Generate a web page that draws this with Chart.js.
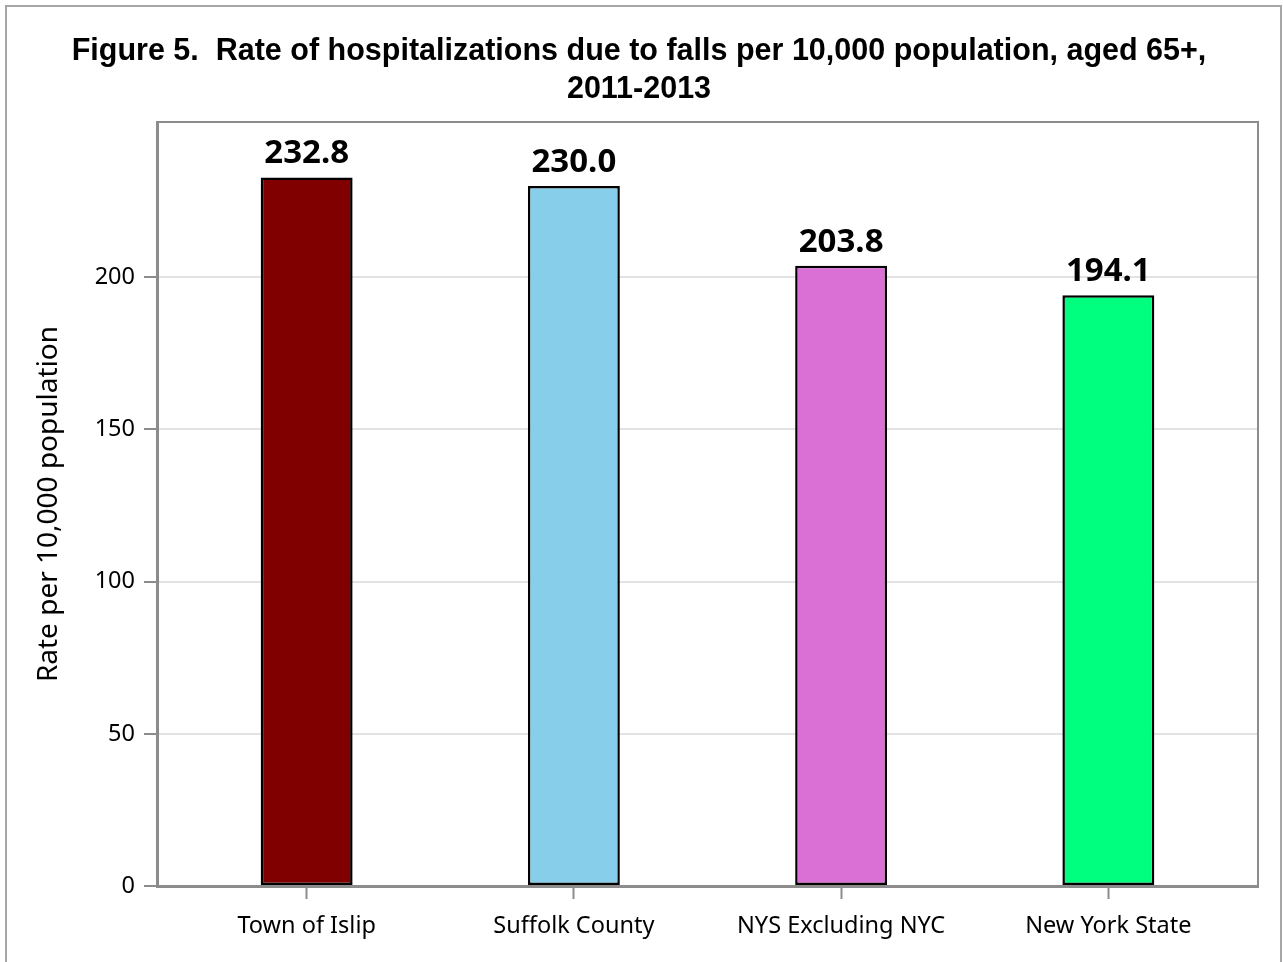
<!DOCTYPE html>
<html lang="en">
<head>
    <meta charset="UTF-8">
    <title>Figure 5 - Hospitalizations due to falls</title>
    <style>
        html, body {
            margin: 0;
            padding: 0;
            background-color: #ffffff;
        }
        .chart-container {
            width: 1283px;
            height: 962px;
        }
    </style>
    <script src="https://cdn.jsdelivr.net/npm/chart.js"></script>
</head>
<body>
    <div class="chart-container">
        <canvas id="fallsChart"></canvas>
    </div>

    <script>
        const areas = ['Town of Islip', 'Suffolk County', 'NYS Excluding NYC', 'New York State'];
        const rates = [232.8, 230.0, 203.8, 194.1];
        const barColors = ['#800000', '#87ceeb', '#da70d6', '#00ff7f'];
        const yTicks = [0, 50, 100, 150, 200];
        const titleLines = ['Figure 5.  Rate of hospitalizations due to falls per 10,000 population, aged 65+,', '2011-2013'];
        const yTitle = 'Rate per 10,000 population';

        const frameGray = '#8c8c8c';

        // outer border + top/right edges of the plot frame
        const framePlugin = {
            id: 'frame',
            beforeDraw(chart) {
                const ctx = chart.ctx;
                ctx.save();
                ctx.strokeStyle = '#a6a6a6';
                ctx.lineWidth = 2;
                ctx.strokeRect(6, 6, chart.width - 8, chart.height - 4);
                ctx.restore();
            },
            afterDraw(chart) {
                const a = chart.chartArea;
                const ctx = chart.ctx;
                ctx.save();
                ctx.strokeStyle = frameGray;
                ctx.lineWidth = 2;
                ctx.beginPath();
                ctx.moveTo(a.left, a.top);
                ctx.lineTo(a.right, a.top);
                ctx.lineTo(a.right, a.bottom);
                ctx.stroke();
                ctx.restore();
            }
        };

        // value labels above each bar
        const valueLabels = {
            id: 'valueLabels',
            afterDatasetsDraw(chart) {
                const ctx = chart.ctx;
                const meta = chart.getDatasetMeta(0);
                ctx.save();
                ctx.font = 'bold 33px "Noto Sans"';
                ctx.fillStyle = '#000';
                ctx.textAlign = 'center';
                ctx.textBaseline = 'alphabetic';
                meta.data.forEach((bar, i) => {
                    ctx.fillText(rates[i].toFixed(1), bar.x, bar.y - 14);
                });
                ctx.restore();
            }
        };

        new Chart(document.getElementById('fallsChart').getContext('2d'), {
            type: 'bar',
            data: {
                datasets: [{
                    data: rates.map((v, i) => ({ x: i, y: v })),
                    backgroundColor: barColors,
                    borderColor: '#000',
                    borderWidth: 2.5,
                    borderSkipped: false,
                    categoryPercentage: 1,
                    barPercentage: 0.344
                }]
            },
            options: {
                responsive: true,
                maintainAspectRatio: false,
                animation: false,
                devicePixelRatio: 1,
                layout: { padding: { left: 20, right: 25, top: 0, bottom: 0 } },
                plugins: {
                    legend: { display: false },
                    tooltip: { enabled: false },
                    title: {
                        display: true,
                        text: titleLines,
                        color: '#000',
                        font: { family: '"Liberation Sans", Arial, sans-serif', size: 30.5, weight: 'bold', lineHeight: 1.23 },
                        padding: { top: 33, bottom: 14 }
                    }
                },
                scales: {
                    x: {
                        type: 'linear',
                        min: -0.56,
                        max: 3.56,
                        offset: false,
                        grid: {
                            offset: false,
                            drawOnChartArea: false,
                            tickColor: frameGray,
                            tickLength: 13,
                            tickWidth: 2
                        },
                        border: { color: frameGray, width: 3 },
                        afterBuildTicks(scale) {
                            scale.ticks = areas.map((a, i) => ({ value: i }));
                        },
                        ticks: {
                            color: '#000',
                            padding: 13,
                            font: { family: '"Noto Sans", sans-serif', size: 23.5 },
                            callback: (v) => areas[v]
                        },
                        afterFit(scale) { scale.height = 76; }
                    },
                    y: {
                        min: 0,
                        max: 251,
                        grid: {
                            color: '#e3e3e3',
                            lineWidth: 2,
                            tickColor: frameGray,
                            tickLength: 13,
                            tickWidth: 2
                        },
                        border: { color: frameGray, width: 3 },
                        afterBuildTicks(scale) {
                            scale.ticks = yTicks.map(v => ({ value: v }));
                        },
                        ticks: {
                            color: '#000',
                            padding: 9,
                            font: { family: '"Noto Sans", sans-serif', size: 23.5 }
                        },
                        title: {
                            display: true,
                            text: yTitle,
                            color: '#000',
                            padding: { top: 12, bottom: 0 },
                            font: { family: '"Noto Sans", sans-serif', size: 28 }
                        },
                        afterFit(scale) { scale.width = 137; }
                    }
                }
            },
            plugins: [framePlugin, valueLabels]
        });
    </script>
</body>
</html>
